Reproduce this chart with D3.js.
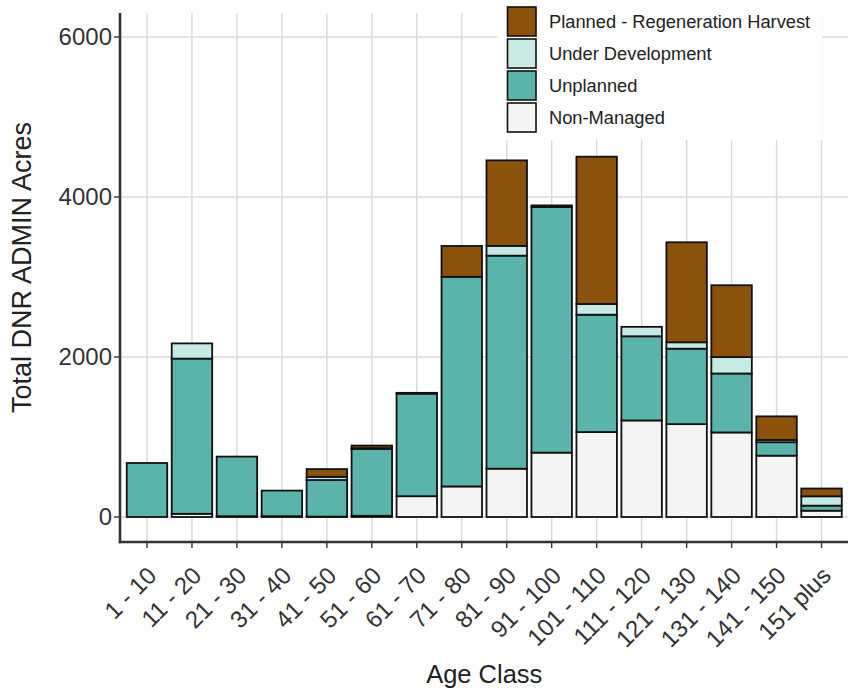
<!DOCTYPE html>
<html>
<head>
<meta charset="utf-8">
<script src="https://cdn.jsdelivr.net/npm/d3@7"></script>
<style>
  html, body { margin: 0; padding: 0; background: #fff; }
  svg { display: block; font-family: "Liberation Sans", Arial, sans-serif; }
</style>
</head>
<body>
<svg id="chart" width="848" height="695"></svg>
<script>
const categories = ["1 - 10","11 - 20","21 - 30","31 - 40","41 - 50","51 - 60","61 - 70","71 - 80","81 - 90","91 - 100","101 - 110","111 - 120","121 - 130","131 - 140","141 - 150","151 plus"];
const nonManaged = [0, 40, 10, 10, 5, 15, 260, 382, 604, 805, 1062, 1207, 1161, 1057, 767, 79];
const unplanned  = [675, 1940, 745, 320, 457, 835, 1282, 2620, 2663, 3070, 1467, 1052, 943, 737, 168, 63];
const underDev   = [0, 190, 0, 0, 40, 10, 10, 0, 122, 20, 134, 118, 80, 205, 29, 117];
const planned    = [0, 0, 0, 0, 97, 33, 0, 386, 1069, 0, 1841, 0, 1250, 898, 294, 97];
const seriesNames = ["Non-Managed", "Unplanned", "Under Development", "Planned - Regeneration Harvest"];
const seriesColors = ["#F4F4F4", "#5AB4AC", "#C7EAE5", "#8C510A"];
const yTicks = [0, 2000, 4000, 6000];

const svg = d3.select("#chart");
const panel = {left: 120, right: 848.5, top: 13, bottom: 542};

// discrete scale with ggplot-style expansion (0.6 step each side, bars 0.9 step wide)
const x = d3.scalePoint().domain(categories)
  .range([panel.left, panel.right]).padding(0.6);
const step = x.step();
const center = c => x(c);
const barW = step * 0.9;

const y = d3.scaleLinear().domain([0, 6000]).range([517, 37]);

// grid
const grid = svg.append("g");
grid.selectAll("line.h").data(yTicks).enter().append("line")
  .attr("x1", panel.left).attr("x2", panel.right)
  .attr("y1", d => y(d)).attr("y2", d => y(d))
  .attr("stroke", "#D9D9D9").attr("stroke-width", 1.4);
grid.selectAll("line.v").data(categories).enter().append("line")
  .attr("x1", d => center(d)).attr("x2", d => center(d))
  .attr("y1", panel.top).attr("y2", panel.bottom)
  .attr("stroke", "#D9D9D9").attr("stroke-width", 1.4);

// stacked data
const rows = categories.map((c, i) => ({cat: c, s0: nonManaged[i], s1: unplanned[i], s2: underDev[i], s3: planned[i]}));
const stack = d3.stack().keys(["s0","s1","s2","s3"])(rows);

const bars = svg.append("g");
stack.forEach((layer, li) => {
  bars.selectAll(null).data(layer.filter(d => d[1] - d[0] > 0)).enter().append("rect")
    .attr("x", d => center(d.data.cat) - barW / 2)
    .attr("width", barW)
    .attr("y", d => y(d[1]))
    .attr("height", d => y(d[0]) - y(d[1]))
    .attr("fill", seriesColors[li])
    .attr("stroke", "#111")
    .attr("stroke-width", 1.8);
});

// axes
const axisCol = "#333333";
svg.append("line").attr("x1", panel.left).attr("x2", panel.left)
  .attr("y1", panel.top).attr("y2", panel.bottom + 1.2)
  .attr("stroke", axisCol).attr("stroke-width", 2.6);
svg.append("line").attr("x1", panel.left - 1.2).attr("x2", panel.right)
  .attr("y1", panel.bottom).attr("y2", panel.bottom)
  .attr("stroke", axisCol).attr("stroke-width", 2.6);

// y ticks
const yAx = svg.append("g");
yAx.selectAll("line").data(yTicks).enter().append("line")
  .attr("x1", panel.left - 6).attr("x2", panel.left)
  .attr("y1", d => y(d)).attr("y2", d => y(d))
  .attr("stroke", axisCol).attr("stroke-width", 1.4);
yAx.selectAll("text").data(yTicks).enter().append("text")
  .attr("x", panel.left - 8).attr("y", d => y(d))
  .attr("dy", "0.35em").attr("text-anchor", "end")
  .attr("font-size", 24).attr("fill", "#333")
  .text(d => d3.format("d")(d));

// x ticks
const xAx = svg.append("g");
xAx.selectAll("line").data(categories).enter().append("line")
  .attr("x1", d => center(d)).attr("x2", d => center(d))
  .attr("y1", panel.bottom).attr("y2", panel.bottom + 6)
  .attr("stroke", axisCol).attr("stroke-width", 1.4);
xAx.selectAll("text").data(categories).enter().append("text")
  .attr("transform", d => `translate(${center(d) + 11},${panel.bottom + 35}) rotate(-45)`)
  .attr("text-anchor", "end")
  .attr("font-size", 24).attr("fill", "#333")
  .text(d => d);

// axis titles
svg.append("text").attr("x", (panel.left + panel.right) / 2).attr("y", 683)
  .attr("text-anchor", "middle").attr("font-size", 25.5).attr("fill", "#222")
  .text("Age Class");
svg.append("text").attr("transform", `translate(31,${(panel.top + panel.bottom) / 2 - 10}) rotate(-90)`)
  .attr("text-anchor", "middle").attr("font-size", 27).attr("fill", "#222")
  .text("Total DNR ADMIN Acres");

// legend
const lg = svg.append("g");
lg.append("rect").attr("x", 497).attr("y", 0).attr("width", 325).attr("height", 140).attr("fill", "#fff");
const legendOrder = [3, 2, 1, 0];
legendOrder.forEach((si, k) => {
  const top = 7 + k * 32;
  lg.append("rect").attr("x", 507.5).attr("y", top).attr("width", 28.5).attr("height", 29)
    .attr("fill", seriesColors[si]).attr("stroke", "#111").attr("stroke-width", 1.6);
  lg.append("text").attr("x", 549).attr("y", top + 15).attr("dy", "0.35em")
    .attr("font-size", 18.3).attr("fill", "#222").text(seriesNames[si]);
});
</script>
</body>
</html>
